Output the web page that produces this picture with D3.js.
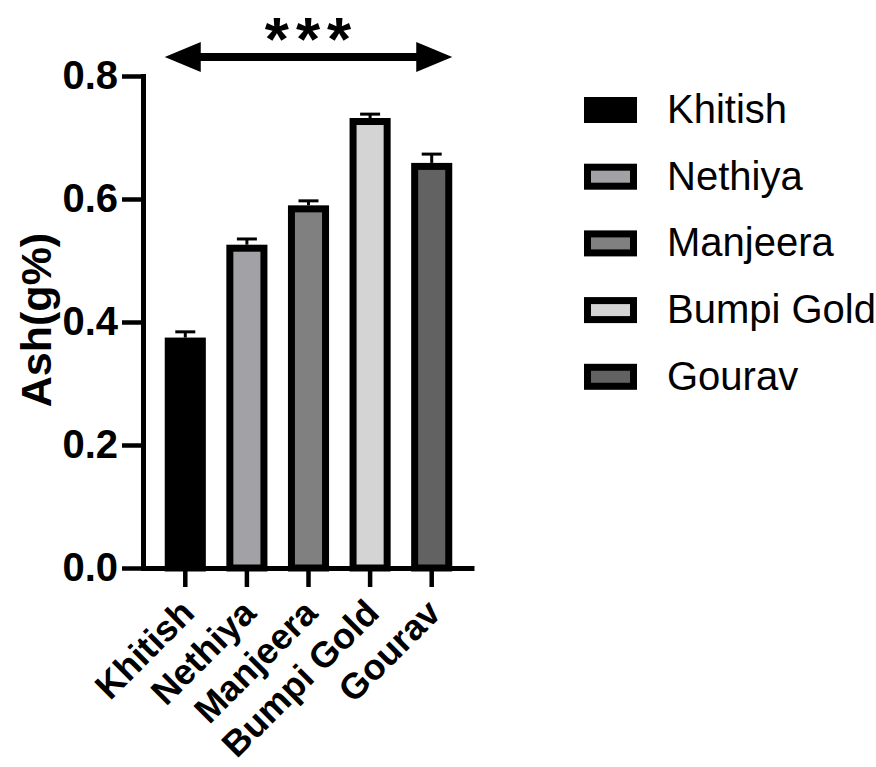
<!DOCTYPE html>
<html>
<head>
<meta charset="utf-8">
<script src="https://cdn.jsdelivr.net/npm/d3@7"></script>
<style>
  body { margin: 0; background: #fff; }
  svg text { font-family: "Liberation Sans", Arial, sans-serif; }
</style>
</head>
<body>
<div id="chart"></div>
<script>
// Data
const varieties = ["Khitish", "Nethiya", "Manjeera", "Bumpi Gold", "Gourav"];
const ashMean = [0.369, 0.520, 0.584, 0.726, 0.653];
const ashErr = [0.015, 0.015, 0.013, 0.012, 0.020];
const barColors = ["#000000", "#a2a2a6", "#808080", "#d4d4d4", "#626262"];
const yTicks = [0, 0.2, 0.4, 0.6, 0.8];
const yTitle = "Ash(g%)";
const sigLabel = "***";

const svg = d3.select("#chart")
    .append("svg")
    .attr("width", 876)
    .attr("height", 767);

// scales
const x = d3.scaleBand()
    .domain(varieties)
    .range([143, 474])
    .paddingInner(0.333)
    .paddingOuter(0.353);

const y = d3.scaleLinear()
    .domain([0, 0.8])
    .range([568, 76]);

// bars
const strokeW = 7;
svg.selectAll("rect.bar")
    .data(varieties)
    .enter()
    .append("rect")
    .attr("class", "bar")
    .attr("x", (d) => x(d) + strokeW / 2)
    .attr("width", x.bandwidth() - strokeW)
    .attr("y", (d, i) => y(ashMean[i]))
    .attr("height", (d, i) => y(0) - y(ashMean[i]))
    .attr("fill", (d, i) => barColors[i])
    .attr("stroke", "#000")
    .attr("stroke-width", strokeW);

// error bars (upper only)
const errG = svg.append("g").attr("stroke", "#000").attr("stroke-width", 3);
varieties.forEach((d, i) => {
    const cx = x(d) + x.bandwidth() / 2;
    errG.append("line")
        .attr("x1", cx).attr("x2", cx)
        .attr("y1", y(ashMean[i]) - strokeW / 2)
        .attr("y2", y(ashMean[i] + ashErr[i]));
    errG.append("line")
        .attr("x1", cx - 10).attr("x2", cx + 10)
        .attr("y1", y(ashMean[i] + ashErr[i]))
        .attr("y2", y(ashMean[i] + ashErr[i]));
});

// y axis
const yAxis = svg.append("g")
    .attr("transform", "translate(143,0)")
    .call(d3.axisLeft(y).tickValues(yTicks).tickFormat(d3.format(".1f"))
        .tickSize(21).tickSizeOuter(0).tickPadding(4));
yAxis.select(".domain").attr("stroke-width", 5).attr("stroke-linecap", "square");
yAxis.selectAll(".tick line").attr("stroke-width", 4.5);
yAxis.selectAll(".tick text")
    .attr("font-size", 40)
    .attr("font-weight", "bold")
    .attr("font-family", "'Liberation Sans', Arial, sans-serif")
    .attr("fill", "#000");

// x axis
const xAxis = svg.append("g")
    .attr("transform", "translate(0,568)")
    .call(d3.axisBottom(x).tickSize(19).tickSizeOuter(0));
xAxis.select(".domain").attr("stroke-width", 5);
xAxis.selectAll(".tick line").attr("stroke-width", 4.5);
xAxis.selectAll(".tick text")
    .attr("font-size", 36)
    .attr("font-weight", "bold")
    .attr("font-family", "'Liberation Sans', Arial, sans-serif")
    .attr("fill", "#000")
    .attr("text-anchor", "end")
    .attr("dy", 0)
    .attr("y", 0)
    .attr("transform", "translate(11,47) rotate(-45)");

// y title
svg.append("text")
    .attr("transform", "translate(51,320) rotate(-90)")
    .attr("text-anchor", "middle")
    .attr("font-size", 43)
    .attr("font-weight", "bold")
    .text(yTitle);

// significance arrow spanning all groups
const ax0 = x(varieties[0]);
const ax1 = x(varieties[varieties.length - 1]) + x.bandwidth();
const ay = 57, headL = 36, headH = 15;
svg.append("line")
    .attr("x1", ax0 + headL - 1).attr("x2", ax1 - headL + 1)
    .attr("y1", ay).attr("y2", ay)
    .attr("stroke", "#000").attr("stroke-width", 8);
svg.append("path")
    .attr("d", `M${ax0},${ay}L${ax0 + headL},${ay - headH}L${ax0 + headL},${ay + headH}Z`)
    .attr("fill", "#000");
svg.append("path")
    .attr("d", `M${ax1},${ay}L${ax1 - headL},${ay - headH}L${ax1 - headL},${ay + headH}Z`)
    .attr("fill", "#000");
svg.append("text")
    .attr("x", (ax0 + ax1) / 2 + 3)
    .attr("y", 60)
    .attr("text-anchor", "middle")
    .attr("font-size", 62)
    .attr("font-weight", "bold")
    .attr("letter-spacing", 7)
    .text(sigLabel);

// legend
const legend = svg.append("g");
const rowH = 66.7;
varieties.forEach((d, i) => {
    legend.append("rect")
        .attr("x", 587.5)
        .attr("y", 100.5 + i * rowH)
        .attr("width", 46)
        .attr("height", 19)
        .attr("fill", barColors[i])
        .attr("stroke", "#000")
        .attr("stroke-width", strokeW);
    legend.append("text")
        .attr("x", 667)
        .attr("y", 123 + i * rowH)
        .attr("font-size", 40)
        .attr("fill", "#000")
        .text(d);
});
</script>
</body>
</html>
